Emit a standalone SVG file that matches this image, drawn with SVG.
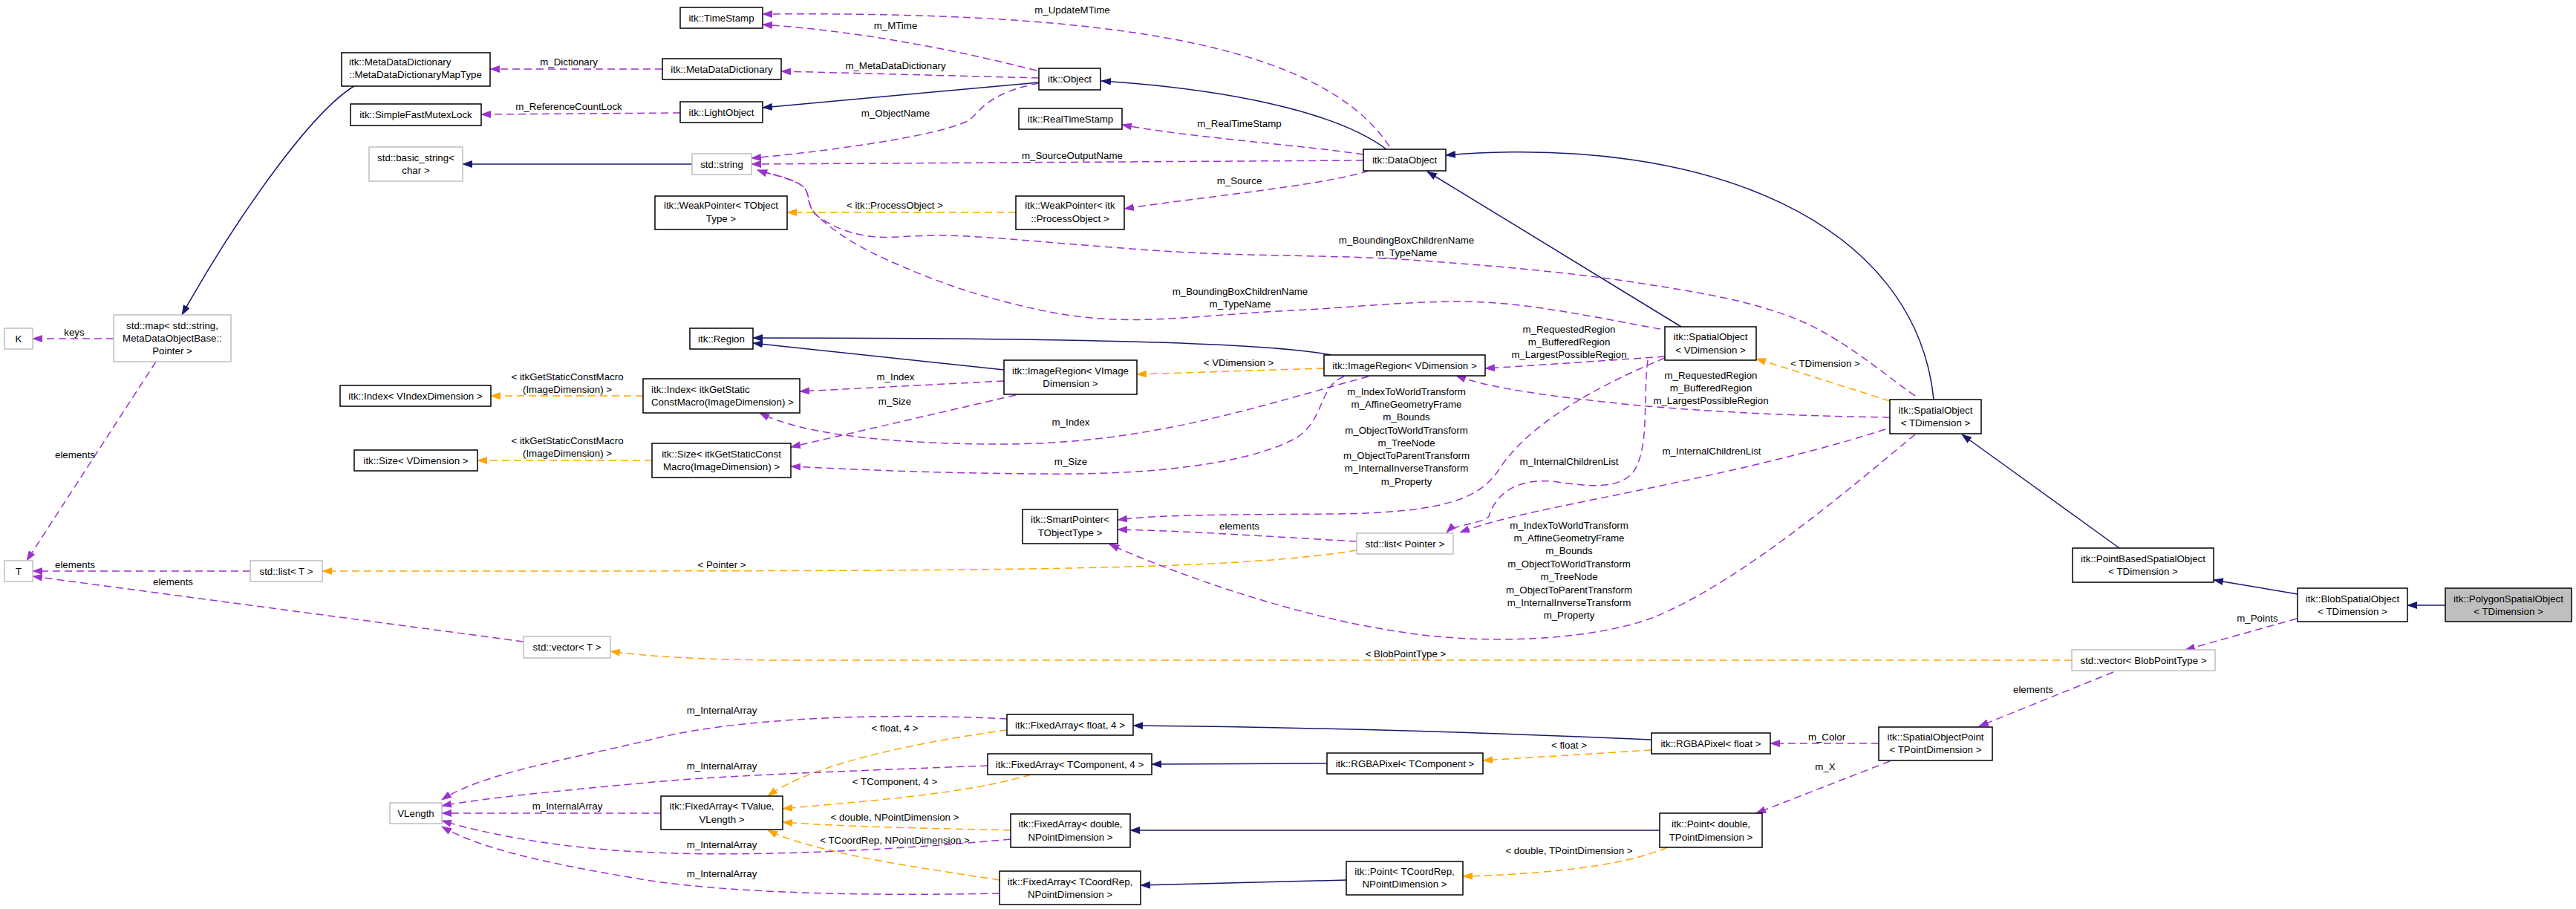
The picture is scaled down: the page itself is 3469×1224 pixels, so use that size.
<svg xmlns="http://www.w3.org/2000/svg" width="3469" height="1224" viewBox="0 0 3469 1224">
<style>
text{font-family:"Liberation Sans",Arial,sans-serif;font-size:13.3px;fill:#000}
.c{text-anchor:middle}
.n rect{fill:#fff;stroke:#000;stroke-width:1.5}
.g rect{fill:#fff;stroke:#bfbfbf;stroke-width:1.5}
.f rect{fill:#bfbfbf;stroke:#000;stroke-width:1.5}
.inh{fill:none;stroke:#191970;stroke-width:1.5;marker-end:url(#mN)}
.use{fill:none;stroke:#9a32cd;stroke-width:1.5;stroke-dasharray:10,6;marker-end:url(#mP)}
.tpl{fill:none;stroke:#ffa500;stroke-width:1.5;stroke-dasharray:10,6;marker-end:url(#mO)}
</style>
<defs>
<marker id="mN" viewBox="0 0 14 10" refX="13" refY="5" markerWidth="14" markerHeight="10" markerUnits="userSpaceOnUse" orient="auto"><path d="M0,0L14,5L0,10z" fill="#191970"/></marker>
<marker id="mP" viewBox="0 0 14 10" refX="13" refY="5" markerWidth="14" markerHeight="10" markerUnits="userSpaceOnUse" orient="auto"><path d="M0,0L14,5L0,10z" fill="#9a32cd"/></marker>
<marker id="mO" viewBox="0 0 14 10" refX="13" refY="5" markerWidth="14" markerHeight="10" markerUnits="userSpaceOnUse" orient="auto"><path d="M0,0L14,5L0,10z" fill="#ffa500"/></marker>
</defs>
<rect width="3469" height="1224" fill="#fff"/>
<g id="connectors">
<path class="inh" d="M477,116 C420,150 320,290 245,424"/>
<path class="inh" d="M932,221 L623,221"/>
<path class="inh" d="M1399,111 L1027,145"/>
<path class="inh" d="M1867,201 C1800,150 1650,120 1483,109"/>
<path class="inh" d="M2264,440 L1922,231"/>
<path class="inh" d="M2604,538 C2580,300 2300,180 1947,209"/>
<path class="inh" d="M1793,478 C1700,460 1400,455 1014,455"/>
<path class="inh" d="M1352,498 L1014,462"/>
<path class="inh" d="M2854,738 L2642,585"/>
<path class="inh" d="M3094,800 L2981,781"/>
<path class="inh" d="M3293,815 L3242,815"/>
<path class="inh" d="M2224,996 Q1850,980 1526,977"/>
<path class="inh" d="M1787,1028 L1551,1029"/>
<path class="inh" d="M2235,1118 L1522,1118"/>
<path class="inh" d="M1813,1185 L1536,1192"/>
<path class="tpl" d="M1827,741 C1650,770 1300,769 434,769"/>
<path class="tpl" d="M1368,286 L1060,286"/>
<path class="tpl" d="M866,533 L661,533"/>
<path class="tpl" d="M878,620 L643,620"/>
<path class="tpl" d="M1783,496 L1531,504"/>
<path class="tpl" d="M2545,540 L2365,483"/>
<path class="tpl" d="M2790,889 L1050,889 Q900,888 822,877"/>
<path class="tpl" d="M1356,983 C1230,1000 1090,1030 1034,1072"/>
<path class="tpl" d="M1388,1043 C1300,1070 1150,1080 1054,1089"/>
<path class="tpl" d="M1361,1118 C1250,1115 1150,1114 1054,1107"/>
<path class="tpl" d="M1346,1185 C1250,1170 1100,1150 1034,1118"/>
<path class="tpl" d="M2224,1010 L1997,1024"/>
<path class="tpl" d="M2245,1141 C2180,1170 2050,1178 1970,1180"/>
<path class="use" d="M892,93 L660,93"/>
<path class="use" d="M916,152 L648,154"/>
<path class="use" d="M1396,95 Q1200,45 1027,33"/>
<path class="use" d="M1871,197 C1780,60 1500,15 1027,19"/>
<path class="use" d="M1399,105 L1052,96"/>
<path class="use" d="M1399,112 C1330,125 1320,150 1305,162 C1260,185 1100,205 1012,213"/>
<path class="use" d="M1836,208 C1750,195 1600,185 1511,168"/>
<path class="use" d="M1836,216 L1012,221"/>
<path class="use" d="M1843,230 C1780,250 1620,265 1514,281"/>
<path class="use" d="M2236,443 C2196.7,437 2082.7,411.2 2000,407 C1917.3,402.8 1823.3,414.2 1740,418 C1656.7,421.8 1568.3,433 1500,430 C1431.7,427 1383.3,414.5 1330,400 C1276.7,385.5 1218.3,361.3 1180,343 C1141.7,324.7 1116.7,305.5 1100,290 C1083.3,274.5 1093.3,260.2 1080,250 C1066.7,239.8 1030,232.5 1020,229"/>
<path class="use" d="M2579,533 C2552.5,515.8 2483.2,455.5 2420,430 C2356.8,404.5 2286.7,393.3 2200,380 C2113.3,366.7 2000,356.7 1900,350 C1800,343.3 1700,345.3 1600,340 C1500,334.7 1371.7,321.7 1300,318 C1228.3,314.3 1203.3,322.7 1170,318 C1136.7,313.3 1115,301.3 1100,290 C1085,278.7 1093.3,260.2 1080,250 C1066.7,239.8 1030,232.5 1020,229"/>
<path class="use" d="M1352,513 L1077,527"/>
<path class="use" d="M1368,532 L1065,602"/>
<path class="use" d="M1843,507 C1700,545 1550,598 1350,598 C1200,598 1080,585 1023,556"/>
<path class="use" d="M1810,507 C1775,520 1785,565 1745,590 C1680,625 1550,640 1400,638 C1250,637 1150,632 1065,628"/>
<path class="use" d="M2242,480 Q2100,490 2000,496"/>
<path class="use" d="M2545,562 C2400,560 2250,552 2150,540 C2060,530 2000,520 1961,506"/>
<path class="use" d="M2242,482 C2150,520 2060,570 2020,630 C1995,670 1950,690 1800,692 C1650,693 1560,693 1505,700"/>
<path class="use" d="M2219,485 C2212,540 2222,600 2200,635 C2180,660 2140,655 2090,648 C2040,645 2015,665 2005,695 C2000,705 1960,705 1948,717"/>
<path class="use" d="M2539,578 C2380,630 2150,670 2050,693 C2010,702 1985,710 1966,717"/>
<path class="use" d="M2579,585 C2500,650 2350,780 2230,830 C2150,862 2000,870 1880,850 C1750,830 1600,780 1494,733"/>
<path class="use" d="M1827,729 C1700,722 1600,715 1505,713"/>
<path class="use" d="M153,456 L44,456"/>
<path class="use" d="M210,487 L36,755"/>
<path class="use" d="M337,769 L44,769"/>
<path class="use" d="M705,864 L44,776"/>
<path class="use" d="M2846,905 L2665,978"/>
<path class="use" d="M3093,833 L2943,875"/>
<path class="use" d="M2530,1001 L2384,1001"/>
<path class="use" d="M2545,1025 L2365,1095"/>
<path class="use" d="M1356,968 C1200,960 1000,965 880,995 C780,1020 650,1040 595,1077"/>
<path class="use" d="M1330,1031 C1150,1038 950,1045 860,1055 C750,1065 650,1075 595,1085"/>
<path class="use" d="M890,1095 L595,1095"/>
<path class="use" d="M1361,1130 C1200,1145 1000,1155 860,1147 C760,1142 660,1125 595,1105"/>
<path class="use" d="M1346,1203 C1200,1206 1000,1205 870,1185 C750,1165 650,1145 595,1113"/>
</g>
<g id="edge-labels" class="c">
<text x="1444" y="17.6" class="c">m_UpdateMTime</text>
<text x="1206" y="38.6" class="c">m_MTime</text>
<text x="766" y="87.6" class="c">m_Dictionary</text>
<text x="1206" y="92.6" class="c">m_MetaDataDictionary</text>
<text x="766" y="147.6" class="c">m_ReferenceCountLock</text>
<text x="1206" y="156.6" class="c">m_ObjectName</text>
<text x="1669" y="170.6" class="c">m_RealTimeStamp</text>
<text x="1444" y="213.6" class="c">m_SourceOutputName</text>
<text x="1669" y="247.6" class="c">m_Source</text>
<text x="1205" y="280.6" class="c">&lt; itk::ProcessObject &gt;</text>
<text x="1894" y="327.6" class="c">m_BoundingBoxChildrenName<tspan x="1894" dy="17">m_TypeName</tspan></text>
<text x="1670" y="396.6" class="c">m_BoundingBoxChildrenName<tspan x="1670" dy="17">m_TypeName</tspan></text>
<text x="100" y="451.6" class="c">keys</text>
<text x="1668" y="492.6" class="c">&lt; VDimension &gt;</text>
<text x="764" y="511.6" class="c">&lt; itkGetStaticConstMacro<tspan x="764" dy="17.3">(ImageDimension) &gt;</tspan></text>
<text x="1206" y="511.6" class="c">m_Index</text>
<text x="1205" y="544.6" class="c">m_Size</text>
<text x="1442" y="572.6" class="c">m_Index</text>
<text x="764" y="597.6" class="c">&lt; itkGetStaticConstMacro<tspan x="764" dy="17.3">(ImageDimension) &gt;</tspan></text>
<text x="101" y="616.6" class="c">elements</text>
<text x="1442" y="625.6" class="c">m_Size</text>
<text x="2113" y="447.6" class="c">m_RequestedRegion<tspan x="2113" dy="17.2">m_BufferedRegion</tspan><tspan x="2113" dy="17.2">m_LargestPossibleRegion</tspan></text>
<text x="2458" y="493.6" class="c">&lt; TDimension &gt;</text>
<text x="2304" y="509.6" class="c">m_RequestedRegion<tspan x="2304" dy="17.4">m_BufferedRegion</tspan><tspan x="2304" dy="17.4">m_LargestPossibleRegion</tspan></text>
<text x="1894" y="531.6" class="c">m_IndexToWorldTransform<tspan x="1894" dy="17.3">m_AffineGeometryFrame</tspan><tspan x="1894" dy="17.3">m_Bounds</tspan><tspan x="1894" dy="17.3">m_ObjectToWorldTransform</tspan><tspan x="1894" dy="17.3">m_TreeNode</tspan><tspan x="1894" dy="17.3">m_ObjectToParentTransform</tspan><tspan x="1894" dy="17.3">m_InternalInverseTransform</tspan><tspan x="1894" dy="17.3">m_Property</tspan></text>
<text x="2113" y="625.6" class="c">m_InternalChildrenList</text>
<text x="2305" y="611.6" class="c">m_InternalChildrenList</text>
<text x="1669" y="712.6" class="c">elements</text>
<text x="2113" y="711.6" class="c">m_IndexToWorldTransform<tspan x="2113" dy="17.4">m_AffineGeometryFrame</tspan><tspan x="2113" dy="17.4">m_Bounds</tspan><tspan x="2113" dy="17.4">m_ObjectToWorldTransform</tspan><tspan x="2113" dy="17.4">m_TreeNode</tspan><tspan x="2113" dy="17.4">m_ObjectToParentTransform</tspan><tspan x="2113" dy="17.4">m_InternalInverseTransform</tspan><tspan x="2113" dy="17.4">m_Property</tspan></text>
<text x="101" y="764.6" class="c">elements</text>
<text x="972" y="764.6" class="c">&lt; Pointer &gt;</text>
<text x="233" y="787.6" class="c">elements</text>
<text x="3040" y="836.6" class="c">m_Points</text>
<text x="1893" y="884.6" class="c">&lt; BlobPointType &gt;</text>
<text x="2738" y="932.6" class="c">elements</text>
<text x="972" y="960.6" class="c">m_InternalArray</text>
<text x="1205" y="984.6" class="c">&lt; float, 4 &gt;</text>
<text x="2460" y="996.6" class="c">m_Color</text>
<text x="2113" y="1007.6" class="c">&lt; float &gt;</text>
<text x="972" y="1035.6" class="c">m_InternalArray</text>
<text x="2458" y="1036.6" class="c">m_X</text>
<text x="1205" y="1056.6" class="c">&lt; TComponent, 4 &gt;</text>
<text x="764" y="1089.6" class="c">m_InternalArray</text>
<text x="1205" y="1104.6" class="c">&lt; double, NPointDimension &gt;</text>
<text x="1205" y="1135.6" class="c">&lt; TCoordRep, NPointDimension &gt;</text>
<text x="972" y="1141.6" class="c">m_InternalArray</text>
<text x="2113" y="1149.6" class="c">&lt; double, TPointDimension &gt;</text>
<text x="972" y="1180.6" class="c">m_InternalArray</text>
</g>
<g id="n-timestamp" class="n"><rect x="916" y="10" width="111" height="28"/><text x="971.5" y="28.6" class="c">itk::TimeStamp</text></g>
<g id="n-maptype" class="n"><rect x="460" y="71" width="200" height="45"/><text x="470" y="88">itk::MetaDataDictionary<tspan x="470" dy="17.3">::MetaDataDictionaryMapType</tspan></text></g>
<g id="n-mdd" class="n"><rect x="892" y="79" width="160" height="28"/><text x="972" y="97.6" class="c">itk::MetaDataDictionary</text></g>
<g id="n-object" class="n"><rect x="1399" y="92" width="83" height="29"/><text x="1440.5" y="111" class="c">itk::Object</text></g>
<g id="n-mutex" class="n"><rect x="472" y="140" width="176" height="29"/><text x="560" y="159" class="c">itk::SimpleFastMutexLock</text></g>
<g id="n-lightobject" class="n"><rect x="916" y="137" width="111" height="28"/><text x="971.5" y="155.6" class="c">itk::LightObject</text></g>
<g id="n-realtimestamp" class="n"><rect x="1372" y="146" width="139" height="28"/><text x="1441.5" y="164.6" class="c">itk::RealTimeStamp</text></g>
<g id="n-basicstring" class="g"><rect x="497" y="198" width="126" height="46"/><text x="560" y="216.6" class="c">std::basic_string&lt;<tspan x="560" dy="17">char &gt;</tspan></text></g>
<g id="n-string" class="g"><rect x="932" y="207" width="80" height="28"/><text x="972" y="225.6" class="c">std::string</text></g>
<g id="n-dataobject" class="n"><rect x="1836" y="201" width="111" height="29"/><text x="1891.5" y="220" class="c">itk::DataObject</text></g>
<g id="n-weakptr-t" class="n"><rect x="882" y="264" width="178" height="45"/><text x="971" y="280.6" class="c">itk::WeakPointer&lt; TObject<tspan x="971" dy="18.5">Type &gt;</tspan></text></g>
<g id="n-weakptr-po" class="n"><rect x="1368" y="264" width="146" height="45"/><text x="1441" y="280.6" class="c">itk::WeakPointer&lt; itk<tspan x="1441" dy="18.5">::ProcessObject &gt;</tspan></text></g>
<g id="n-k" class="g"><rect x="6" y="442" width="38" height="28"/><text x="25" y="460.6" class="c">K</text></g>
<g id="n-map" class="g"><rect x="153" y="424" width="158" height="63"/><text x="232" y="442.6" class="c">std::map&lt; std::string,<tspan x="232" dy="17.3">MetaDataObjectBase::</tspan><tspan x="232" dy="17.3">Pointer &gt;</tspan></text></g>
<g id="n-region" class="n"><rect x="929" y="442" width="85" height="28"/><text x="971.5" y="460.6" class="c">itk::Region</text></g>
<g id="n-so-v" class="n"><rect x="2242" y="440" width="123" height="45"/><text x="2303.5" y="457.6" class="c">itk::SpatialObject<tspan x="2303.5" dy="18">&lt; VDimension &gt;</tspan></text></g>
<g id="n-imageregion-v" class="n"><rect x="1783" y="478" width="217" height="28"/><text x="1891.5" y="496.6" class="c">itk::ImageRegion&lt; VDimension &gt;</text></g>
<g id="n-imageregion-vi" class="n"><rect x="1352" y="485" width="179" height="46"/><text x="1441.5" y="503.6" class="c">itk::ImageRegion&lt; VImage<tspan x="1441.5" dy="17">Dimension &gt;</tspan></text></g>
<g id="n-index-ig" class="n"><rect x="866" y="510" width="211" height="46"/><text x="877" y="528.6">itk::Index&lt; itkGetStatic<tspan x="877" dy="17">ConstMacro(ImageDimension) &gt;</tspan></text></g>
<g id="n-index-v" class="n"><rect x="458" y="519" width="203" height="28"/><text x="559.5" y="537.6" class="c">itk::Index&lt; VIndexDimension &gt;</text></g>
<g id="n-so-t" class="n"><rect x="2545" y="538" width="123" height="46"/><text x="2606.5" y="556.6" class="c">itk::SpatialObject<tspan x="2606.5" dy="17">&lt; TDimension &gt;</tspan></text></g>
<g id="n-size-ig" class="n"><rect x="878" y="597" width="187" height="46"/><text x="971.5" y="615.6" class="c">itk::Size&lt; itkGetStaticConst<tspan x="971.5" dy="17">Macro(ImageDimension) &gt;</tspan></text></g>
<g id="n-size-v" class="n"><rect x="477" y="606" width="166" height="28"/><text x="560" y="624.6" class="c">itk::Size&lt; VDimension &gt;</text></g>
<g id="n-smartptr" class="n"><rect x="1377" y="686" width="128" height="46"/><text x="1441" y="703.6" class="c">itk::SmartPointer&lt;<tspan x="1441" dy="18">TObjectType &gt;</tspan></text></g>
<g id="n-list-pointer" class="g"><rect x="1827" y="718" width="130" height="28"/><text x="1892" y="736.6" class="c">std::list&lt; Pointer &gt;</text></g>
<g id="n-pbso" class="n"><rect x="2791" y="738" width="190" height="46"/><text x="2886" y="756.6" class="c">itk::PointBasedSpatialObject<tspan x="2886" dy="17">&lt; TDimension &gt;</tspan></text></g>
<g id="n-t" class="g"><rect x="6" y="755" width="38" height="28"/><text x="25" y="773.6" class="c">T</text></g>
<g id="n-list-t" class="g"><rect x="337" y="755" width="97" height="28"/><text x="385.5" y="773.6" class="c">std::list&lt; T &gt;</text></g>
<g id="n-blob" class="n"><rect x="3094" y="792" width="148" height="45"/><text x="3168" y="810.6" class="c">itk::BlobSpatialObject<tspan x="3168" dy="17">&lt; TDimension &gt;</tspan></text></g>
<g id="n-polygon" class="f"><rect x="3293" y="792" width="170" height="45"/><text x="3378" y="810.6" class="c">itk::PolygonSpatialObject<tspan x="3378" dy="17">&lt; TDimension &gt;</tspan></text></g>
<g id="n-vector-t" class="g"><rect x="705" y="857" width="117" height="29"/><text x="763.5" y="876" class="c">std::vector&lt; T &gt;</text></g>
<g id="n-vector-blob" class="g"><rect x="2790" y="875" width="193" height="28"/><text x="2886.5" y="893.6" class="c">std::vector&lt; BlobPointType &gt;</text></g>
<g id="n-fa-float" class="n"><rect x="1356" y="962" width="170" height="28"/><text x="1441" y="980.6" class="c">itk::FixedArray&lt; float, 4 &gt;</text></g>
<g id="n-sop" class="n"><rect x="2530" y="979" width="153" height="45"/><text x="2606.5" y="996.6" class="c">itk::SpatialObjectPoint<tspan x="2606.5" dy="17">&lt; TPointDimension &gt;</tspan></text></g>
<g id="n-rgba-float" class="n"><rect x="2224" y="987" width="160" height="28"/><text x="2304" y="1005.6" class="c">itk::RGBAPixel&lt; float &gt;</text></g>
<g id="n-rgba-t" class="n"><rect x="1787" y="1014" width="210" height="28"/><text x="1892" y="1032.6" class="c">itk::RGBAPixel&lt; TComponent &gt;</text></g>
<g id="n-fa-tcomp" class="n"><rect x="1330" y="1015" width="221" height="28"/><text x="1440.5" y="1033.6" class="c">itk::FixedArray&lt; TComponent, 4 &gt;</text></g>
<g id="n-fa-tvalue" class="n"><rect x="890" y="1072" width="164" height="45"/><text x="972" y="1089.6" class="c">itk::FixedArray&lt; TValue,<tspan x="972" dy="18">VLength &gt;</tspan></text></g>
<g id="n-vlength" class="g"><rect x="525" y="1081" width="70" height="28"/><text x="560" y="1099.6" class="c">VLength</text></g>
<g id="n-fa-double" class="n"><rect x="1361" y="1096" width="161" height="45"/><text x="1441.5" y="1113.6" class="c">itk::FixedArray&lt; double,<tspan x="1441.5" dy="18">NPointDimension &gt;</tspan></text></g>
<g id="n-point-double" class="n"><rect x="2235" y="1095" width="138" height="46"/><text x="2304" y="1113.6" class="c">itk::Point&lt; double,<tspan x="2304" dy="18">TPointDimension &gt;</tspan></text></g>
<g id="n-point-tcoord" class="n"><rect x="1813" y="1160" width="157" height="45"/><text x="1891.5" y="1177.6" class="c">itk::Point&lt; TCoordRep,<tspan x="1891.5" dy="17">NPointDimension &gt;</tspan></text></g>
<g id="n-fa-tcoord" class="n"><rect x="1346" y="1173" width="190" height="45"/><text x="1441" y="1191.6" class="c">itk::FixedArray&lt; TCoordRep,<tspan x="1441" dy="17">NPointDimension &gt;</tspan></text></g>
</svg>
